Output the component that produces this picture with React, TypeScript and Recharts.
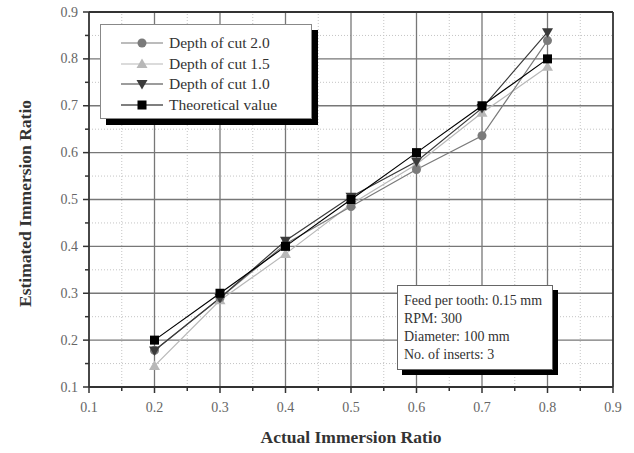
import { Legend, Line, LineChart, ReferenceLine, XAxis, YAxis } from "recharts";

const actualRatio = [0.2, 0.3, 0.4, 0.5, 0.6, 0.7, 0.8];
const depth20 = [0.178, 0.29, 0.405, 0.485, 0.564, 0.636, 0.839];
const depth15 = [0.145, 0.285, 0.384, 0.49, 0.575, 0.685, 0.783];
const depth10 = [0.178, 0.29, 0.412, 0.506, 0.581, 0.695, 0.857];
const theoretical = [0.2, 0.3, 0.4, 0.5, 0.6, 0.7, 0.8];

const axisTicks = [0.1, 0.15, 0.2, 0.25, 0.3, 0.35, 0.4, 0.45, 0.5, 0.55, 0.6, 0.65, 0.7, 0.75, 0.8, 0.85, 0.9];
const majorGrid = [0.2, 0.3, 0.4, 0.5, 0.6, 0.7, 0.8];
const minorGrid = [0.15, 0.25, 0.35, 0.45, 0.55, 0.65, 0.75, 0.85];

const notes = ["Feed per tooth: 0.15 mm", "RPM: 300", "Diameter: 100 mm", "No. of inserts: 3"];

const data = actualRatio.map((x, i) => ({
  x,
  d20: depth20[i],
  d15: depth15[i],
  d10: depth10[i],
  theo: theoretical[i],
}));

const serif = "Liberation Serif, DejaVu Serif, serif";

const series = [
  { key: "d20", name: "Depth of cut 2.0", color: "#7a7a7a", shape: "circle" },
  { key: "d15", name: "Depth of cut 1.5", color: "#b8b8b8", shape: "up" },
  { key: "d10", name: "Depth of cut 1.0", color: "#3a3a3a", shape: "down" },
  { key: "theo", name: "Theoretical value", color: "#000000", shape: "square" },
];

function Marker({ cx, cy, shape, color }: any) {
  if (cx == null || cy == null) return null;
  if (shape === "circle") return <circle cx={cx} cy={cy} r={4.5} fill={color} />;
  if (shape === "square") return <rect x={cx - 4.5} y={cy - 4.5} width={9} height={9} fill={color} />;
  if (shape === "up")
    return <polygon points={`${cx},${cy - 5.5} ${cx - 5.5},${cy + 4} ${cx + 5.5},${cy + 4}`} fill={color} />;
  return <polygon points={`${cx},${cy + 5.5} ${cx - 5.5},${cy - 4} ${cx + 5.5},${cy - 4}`} fill={color} />;
}

const isMajor = (v: number) => Math.round(v * 100) % 10 === 0;

function XTick({ x, y, payload }: any) {
  const axisY = y - 10;
  const major = isMajor(payload.value);
  return (
    <g>
      <line x1={x} x2={x} y1={axisY} y2={axisY + (major ? 6 : 4)} stroke="#333" strokeWidth={1.5} />
      {major && (
        <text x={x} y={axisY + 25} textAnchor="middle" fontSize={14} fill="#666" fontFamily={serif}>
          {payload.value}
        </text>
      )}
    </g>
  );
}

function YTick({ x, y, payload }: any) {
  const axisX = x + 10;
  const major = isMajor(payload.value);
  return (
    <g>
      <line x1={axisX - (major ? 6 : 4)} x2={axisX} y1={y} y2={y} stroke="#333" strokeWidth={1.5} />
      {major && (
        <text x={axisX - 11} y={y + 4.5} textAnchor="end" fontSize={14} fill="#666" fontFamily={serif}>
          {payload.value}
        </text>
      )}
    </g>
  );
}

function LegendBox() {
  return (
    <div
      style={{
        width: 212,
        height: 95,
        boxSizing: "border-box",
        border: "1px solid #888",
        background: "#fff",
        boxShadow: "6px 6px 0 #000",
        paddingTop: 8,
        fontFamily: serif,
        fontSize: 15.5,
        color: "#333",
      }}
    >
      {series.map((s) => (
        <div key={s.key} style={{ display: "flex", alignItems: "center", height: 20.5 }}>
          <svg width={68} height={20} style={{ flex: "none" }}>
            <line x1={20} x2={62} y1={10} y2={10} stroke={s.color} strokeWidth={1.2} />
            <Marker cx={41} cy={10} shape={s.shape} color={s.color} />
          </svg>
          <span>{s.name}</span>
        </div>
      ))}
    </div>
  );
}

export default function App() {
  return (
    <div style={{ position: "absolute", left: 0, top: 0, width: 634, height: 453, background: "#fff" }}>
      <LineChart width={634} height={453} data={data} margin={{ top: 12, right: 21, bottom: 0, left: 0 }}>
        {minorGrid.map((v) => (
          <ReferenceLine key={`mx${v}`} x={v} stroke="#c4c4c4" strokeDasharray="1 2" />
        ))}
        {minorGrid.map((v) => (
          <ReferenceLine key={`my${v}`} y={v} stroke="#c4c4c4" strokeDasharray="1 2" />
        ))}
        {majorGrid.map((v) => (
          <ReferenceLine key={`gx${v}`} x={v} stroke="#777" strokeWidth={1.3} />
        ))}
        {majorGrid.map((v) => (
          <ReferenceLine key={`gy${v}`} y={v} stroke="#777" strokeWidth={1.3} />
        ))}
        <ReferenceLine x={0.9} stroke="#333" strokeWidth={1.8} />
        <ReferenceLine y={0.9} stroke="#333" strokeWidth={1.8} />
        <XAxis
          dataKey="x"
          type="number"
          domain={[0.1, 0.9]}
          ticks={axisTicks}
          interval={0}
          height={66}
          tickSize={6}
          tickMargin={4}
          tickLine={false}
          tick={<XTick />}
          axisLine={{ stroke: "#333", strokeWidth: 1.8 }}
          label={{
            content: ({ viewBox }: any) => (
              <text
                x={viewBox.x + viewBox.width / 2}
                y={443}
                textAnchor="middle"
                fontSize={17.5}
                fontWeight="bold"
                fill="#333"
                fontFamily={serif}
              >
                Actual Immersion Ratio
              </text>
            ),
          }}
        />
        <YAxis
          type="number"
          domain={[0.1, 0.9]}
          ticks={axisTicks}
          interval={0}
          width={89}
          tickSize={6}
          tickMargin={4}
          tickLine={false}
          tick={<YTick />}
          axisLine={{ stroke: "#333", strokeWidth: 1.8 }}
          label={{
            content: ({ viewBox }: any) => {
              const cy = viewBox.y + viewBox.height / 2 + 4;
              return (
                <text
                  x={31}
                  y={cy}
                  transform={`rotate(-90 31 ${cy})`}
                  textAnchor="middle"
                  fontSize={17.5}
                  fontWeight="bold"
                  fill="#333"
                  fontFamily={serif}
                >
                  Estimated Immersion Ratio
                </text>
              );
            },
          }}
        />
        <Legend
          layout="horizontal"
          verticalAlign="middle"
          align="center"
          content={() => <LegendBox />}
          wrapperStyle={{ left: 100, top: 24, width: 212, height: 95 }}
        />
        {[series[1], series[0], series[2], series[3]].map((s) => (
          <Line
            key={s.key}
            dataKey={s.key}
            name={s.name}
            stroke={s.color}
            strokeWidth={1.2}
            isAnimationActive={false}
            dot={(p: any) => <Marker key={`${s.key}${p.index}`} cx={p.cx} cy={p.cy} shape={s.shape} color={s.color} />}
            activeDot={false}
          />
        ))}
      </LineChart>
      <div
        style={{
          position: "absolute",
          left: 397,
          top: 285,
          width: 156,
          height: 85,
          boxSizing: "border-box",
          border: "1px solid #666",
          background: "#fff",
          boxShadow: "5px 5px 0 #000",
          padding: "6px 0 0 6px",
          fontFamily: serif,
          fontSize: 14,
          lineHeight: "18px",
          color: "#333",
        }}
      >
        {notes.map((t) => (
          <div key={t}>{t}</div>
        ))}
      </div>
    </div>
  );
}
